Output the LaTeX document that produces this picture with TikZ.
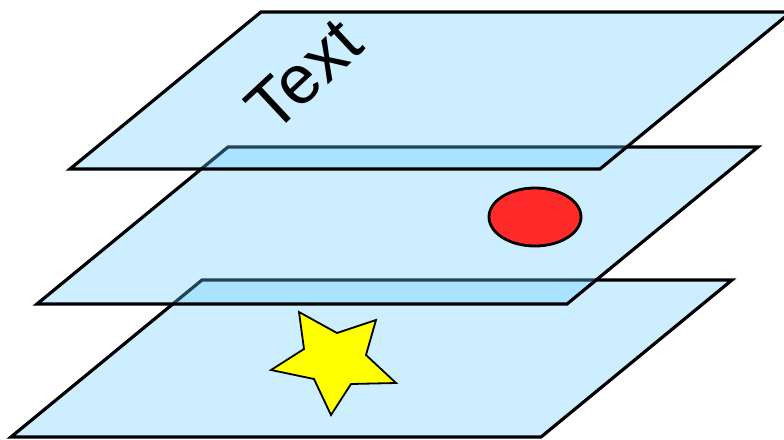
\documentclass[tikz,border=0pt]{standalone}
\usepackage{fontspec}
\setsansfont{Liberation Sans}
\definecolor{sheet}{RGB}{102,204,255}
\definecolor{dotred}{RGB}{255,42,42}
\definecolor{staryellow}{RGB}{255,255,0}
\begin{document}
\begin{tikzpicture}[x=1pt,y=-1pt]
            \def\w{530}
            \def\dx{191}
            \def\dy{157}
            \useasboundingbox (0,0) rectangle (784,439);
            \clip (0,0) rectangle (784,439);
            % sheets, lowest first
            \foreach \x/\y in {11/437,37/304,70/169}
                \draw[line width=3.2pt,fill=sheet,fill opacity=.333] (\x,\y)--++(\w,0)--++(\dx,-\dy)--++(-\w,0)--cycle;
            \node[rotate=43,font=\sffamily\fontsize{69}{69}\selectfont] (word) at (304,75) {Text};
            \draw[line width=2.8pt,fill=dotred] (535,217) ellipse [x radius=46,y radius=29];
            \draw[line width=1.8pt,fill=staryellow] (299,312)--(337,333)--(376,320)--(366,355)--(396,383)
                --(351,384)--(331,415)--(314,379)--(271,370)--(304,349)--cycle;
        \end{tikzpicture}
\end{document}
